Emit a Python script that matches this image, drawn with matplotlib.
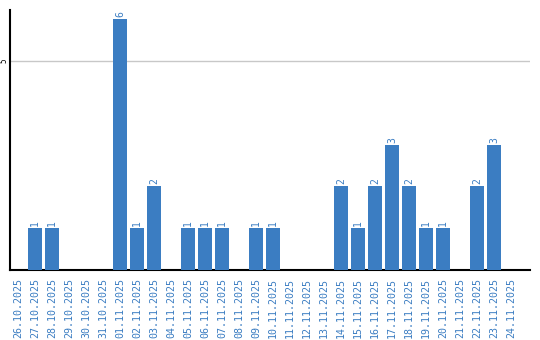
import matplotlib
matplotlib.use("Agg")
import matplotlib.pyplot as plt

dates = ["26.10.2025", "27.10.2025", "28.10.2025", "29.10.2025", "30.10.2025",
         "31.10.2025", "01.11.2025", "02.11.2025", "03.11.2025", "04.11.2025",
         "05.11.2025", "06.11.2025", "07.11.2025", "08.11.2025", "09.11.2025",
         "10.11.2025", "11.11.2025", "12.11.2025", "13.11.2025", "14.11.2025",
         "15.11.2025", "16.11.2025", "17.11.2025", "18.11.2025", "19.11.2025",
         "20.11.2025", "21.11.2025", "22.11.2025", "23.11.2025", "24.11.2025"]
values = [0, 1, 1, 0, 0, 0, 6, 1, 2, 0, 1, 1, 1, 0, 1, 1, 0, 0, 0, 2,
          1, 2, 3, 2, 1, 1, 0, 2, 3, 0]
yticks = [5]

blue = "#3b7dc2"
fig = plt.figure(figsize=(5.4, 3.4), dpi=100)
ax = fig.add_axes([10/540, 70/340, 520/540, 260/340])
x = list(range(len(dates)))
bars = ax.bar(x, values, width=0.82, color=blue, zorder=3)
for xi, v in zip(x, values):
    if v > 0:
        ax.text(xi, v + 0.05, str(v), rotation=90, ha="center", va="bottom",
                color=blue, fontsize=7, family="DejaVu Sans Mono")
ax.set_xlim(-0.47, 30.1)
ax.set_ylim(0, 6.22)
ax.set_yticks(yticks)
ax.set_yticklabels([str(t) for t in yticks], rotation=90, va="center",
                   fontsize=5.5, family="DejaVu Sans Mono")
ax.tick_params(axis="y", length=0, pad=1)
ax.yaxis.grid(True, color="#c8c8c8", linewidth=1, zorder=0)
ax.set_xticks(x)
ax.set_xticklabels(dates, rotation=90, color=blue, fontsize=7.2,
                   family="DejaVu Sans Mono")
ax.tick_params(axis="x", length=0, pad=6)
for s in ["top", "right"]:
    ax.spines[s].set_visible(False)
ax.spines["left"].set_linewidth(1.5)
ax.spines["bottom"].set_linewidth(1.5)
fig.savefig("out.png", dpi=100)
